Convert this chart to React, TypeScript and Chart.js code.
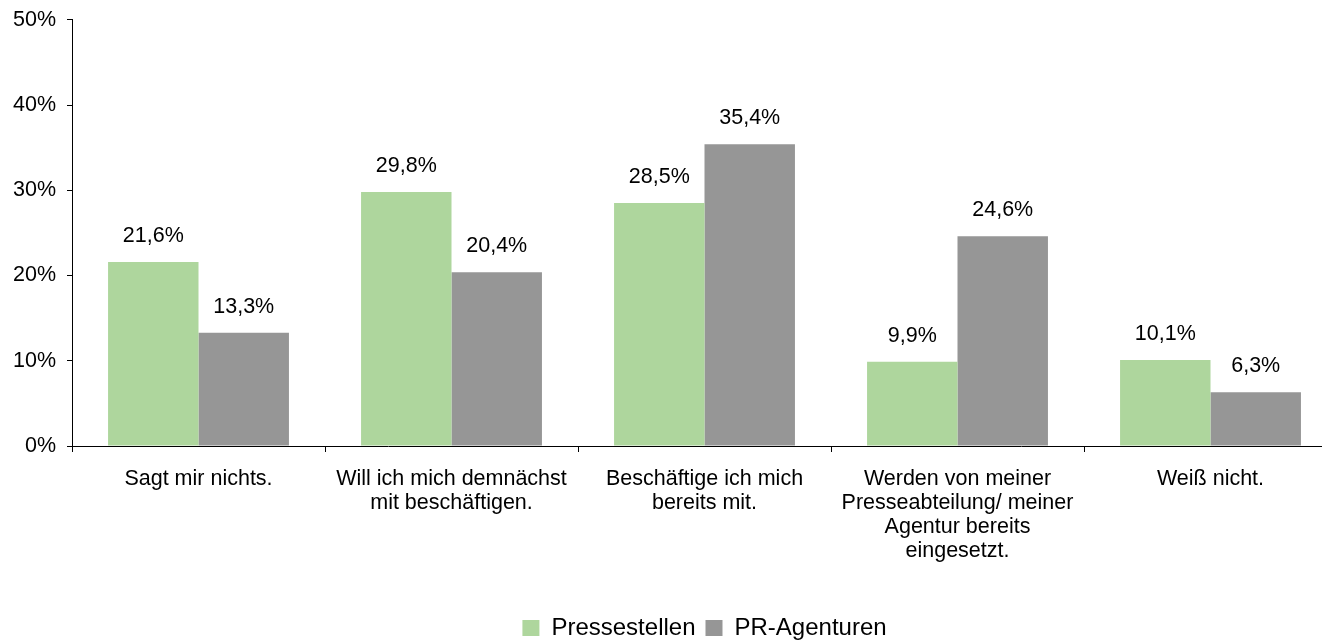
import React, { useEffect, useRef } from "react";
import { Chart, registerables } from "chart.js";

Chart.register(...registerables);

const categories: (string | string[])[] = [
  "Sagt mir nichts.",
  ["Will ich mich demnächst", "mit beschäftigen."],
  ["Beschäftige ich mich", "bereits mit."],
  ["Werden von meiner", "Presseabteilung/ meiner", "Agentur bereits", "eingesetzt."],
  "Weiß nicht.",
];
const seriesNames = ["Pressestellen", "PR-Agenturen"];
const pressestellen = [21.6, 29.8, 28.5, 9.9, 10.1];
const prAgenturen = [13.3, 20.4, 35.4, 24.6, 6.3];
const yTicks = [0, 10, 20, 30, 40, 50];

const FONT = "'Liberation Sans', Arial, sans-serif";
const fmt = (v: number) => v.toFixed(1).replace(".", ",") + "%";

const valueLabels = {
  id: "valueLabels",
  afterDatasetsDraw(chart: any) {
    const ctx = chart.ctx;
    ctx.save();
    ctx.font = `21.5px ${FONT}`;
    ctx.fillStyle = "#000";
    ctx.textAlign = "center";
    ctx.textBaseline = "middle";
    chart.data.datasets.forEach((ds: any, i: number) => {
      const meta = chart.getDatasetMeta(i);
      meta.data.forEach((bar: any, j: number) => {
        ctx.fillText(fmt(ds.data[j]), bar.x, bar.y - 26);
      });
    });
    ctx.restore();
  },
};

export default function App() {
  const ref = useRef<HTMLCanvasElement | null>(null);
  useEffect(() => {
    if (!ref.current) return;
    const chart = new Chart(ref.current, {
      type: "bar",
      data: {
        labels: categories,
        datasets: [
          {
            label: seriesNames[0],
            data: pressestellen,
            backgroundColor: "#aed69d",
            barPercentage: 1,
            categoryPercentage: 0.715,
          },
          {
            label: seriesNames[1],
            data: prAgenturen,
            backgroundColor: "#969696",
            barPercentage: 1,
            categoryPercentage: 0.715,
          },
        ],
      },
      options: {
        animation: false,
        responsive: false,
        maintainAspectRatio: false,
        layout: { padding: { top: 19, right: 3, left: 0, bottom: 0 } },
        plugins: {
          tooltip: { enabled: false },
          legend: {
            position: "bottom",
            fullSize: false,
            labels: {
              color: "#000",
              font: { family: FONT, size: 24 },
              boxWidth: 17,
              boxHeight: 16,
              padding: 10,
            },
          },
        },
        scales: {
          x: {
            grid: {
              offset: true,
              drawOnChartArea: false,
              drawTicks: true,
              tickLength: 6,
              color: "#000",
            },
            border: { display: true, color: "#000", width: 1 },
            ticks: {
              color: "#000",
              font: { family: FONT, size: 21.5, lineHeight: "24px" },
              padding: 15,
              maxRotation: 0,
              autoSkip: false,
            },
            afterFit: (s: any) => {
              s.height = 160;
            },
          },
          y: {
            min: 0,
            max: 50,
            afterBuildTicks: (s: any) => {
              s.ticks = yTicks.map((v) => ({ value: v }));
            },
            grid: {
              drawOnChartArea: false,
              drawTicks: true,
              tickLength: 5,
              color: "#000",
            },
            border: { display: true, color: "#000", width: 1 },
            ticks: {
              color: "#000",
              font: { family: FONT, size: 21.5 },
              padding: 11,
              callback: (v: any) => v + "%",
            },
            afterFit: (s: any) => {
              s.width = 72;
            },
          },
        },
      },
      plugins: [valueLabels],
    });
    return () => chart.destroy();
  }, []);
  return (
    <div
      style={{
        position: "fixed",
        left: 0,
        top: 0,
        width: 1322,
        height: 640,
        overflow: "hidden",
        background: "#fff",
      }}
    >
      <canvas
        ref={ref}
        width={1340}
        height={654}
        style={{ display: "block", position: "absolute", left: 0, top: -4 }}
      />
    </div>
  );
}
